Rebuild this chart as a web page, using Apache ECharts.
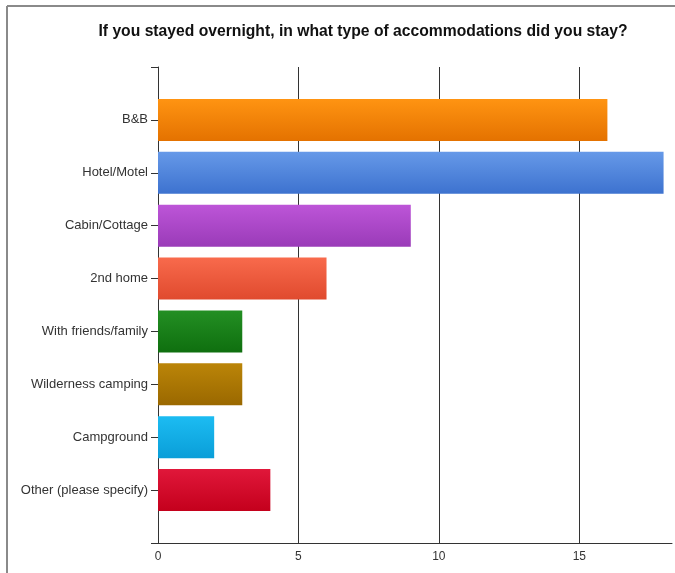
<!DOCTYPE html>
<html>
<head>
<meta charset="utf-8">
<style>
  html, body { margin: 0; padding: 0; background: #fff; }
  #chart { width: 675px; height: 573px; }
</style>
<script src="https://cdn.jsdelivr.net/npm/echarts@6/dist/echarts.min.js"></script>
</head>
<body>
<div id="chart"></div>
<script>
// Accommodation types and response counts
const categories = [
  'B&B', 'Hotel/Motel', 'Cabin/Cottage', '2nd home',
  'With friends/family', 'Wilderness camping', 'Campground', 'Other (please specify)'
];
const counts = [16, 18, 9, 6, 3, 3, 2, 4];
// Light (top) and dark (bottom) shade for each bar
const topColors = ['#ff9412', '#6699e8', '#bd55d8', '#f86a4c', '#238f23', '#bb8508', '#1cbcf2', '#e0173a'];
const bottomColors = ['#e47200', '#3d72cf', '#9a3bb8', '#e04a2e', '#0f6f0f', '#9a6800', '#0a9ed8', '#c4001c'];
const xTicks = [0, 5, 10, 15];

const chart = echarts.init(document.getElementById('chart'));

// Empty slots at both ends of the category axis give the padding above and below the bars
const yCats = [''].concat(categories, ['']);
const barData = [null].concat(counts.map((v, i) => ({
  value: v,
  itemStyle: {
    color: new echarts.graphic.LinearGradient(0, 0, 0, 1, [
      { offset: 0, color: topColors[i] },
      { offset: 1, color: bottomColors[i] }
    ])
  }
})), [null]);

chart.setOption({
  animation: false,
  title: {
    text: 'If you stayed overnight, in what type of accommodations did you stay?',
    left: 358, top: 19, textAlign: 'center',
    textStyle: { fontFamily: 'Liberation Sans, Arial, sans-serif', fontSize: 15.7, fontWeight: 'bold', color: '#111' }
  },
  graphic: [
    { type: 'line', shape: { x1: 7, y1: 6, x2: 675, y2: 6 }, style: { stroke: '#8a8a8a', lineWidth: 2 } },
    { type: 'line', shape: { x1: 7, y1: 6, x2: 7, y2: 573 }, style: { stroke: '#8a8a8a', lineWidth: 2 } }
  ],
  grid: { left: 158, right: 0, top: 67, bottom: 30, containLabel: false },
  xAxis: {
    type: 'value', min: 0, max: 18.3, interval: 5,
    axisLine: { show: true, lineStyle: { color: '#333', width: 1 } },
    axisTick: { show: false },
    axisLabel: {
      color: '#333', fontFamily: 'Liberation Sans, Arial, sans-serif', fontSize: 12, margin: 8,
      formatter: v => (xTicks.indexOf(v) >= 0 ? String(v) : '')
    },
    // gridlines at 5, 10, 15 only; none at the right edge
    splitLine: { show: true, lineStyle: { color: ['#333', '#333', '#333', '#333', 'rgba(0,0,0,0)'], width: 1 } }
  },
  yAxis: {
    type: 'category', data: yCats, inverse: true, boundaryGap: false,
    axisLine: { show: true, lineStyle: { color: '#333', width: 1 } },
    axisTick: { show: true, length: 7, lineStyle: { color: '#333' } },
    axisLabel: { color: '#333', fontFamily: 'Liberation Sans, Arial, sans-serif', fontSize: 13, margin: 10 },
    splitLine: { show: false }
  },
  series: [{
    type: 'bar',
    data: barData,
    barWidth: 42
  }]
});
</script>
</body>
</html>
